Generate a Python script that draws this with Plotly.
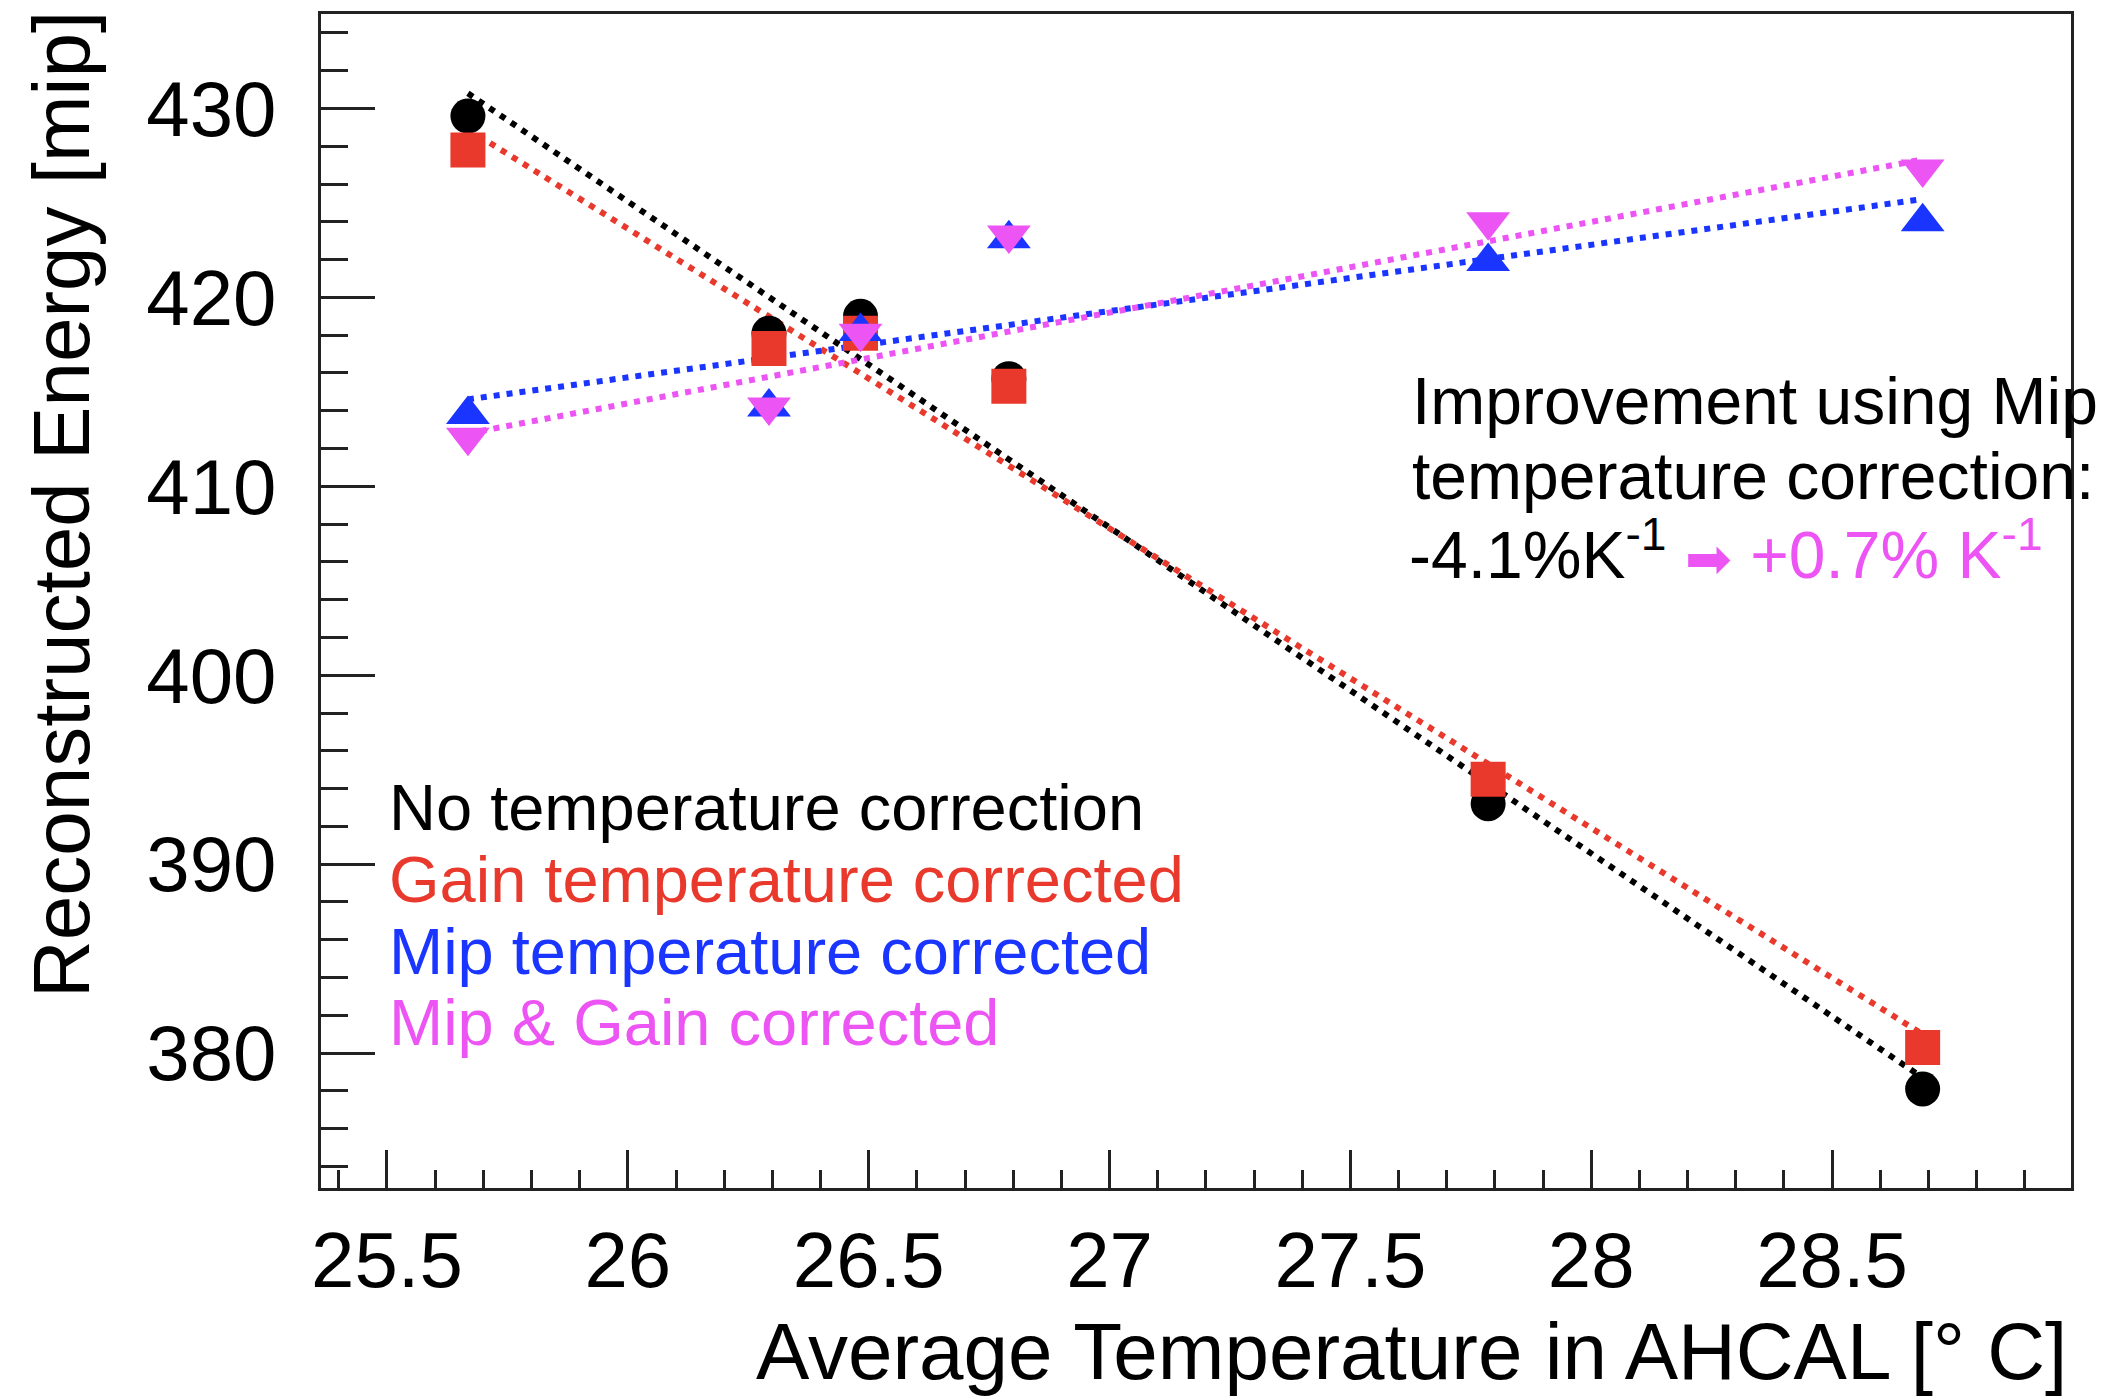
import plotly.graph_objects as go

# ---- data ----
temperature = [25.668, 26.293, 26.483, 26.791, 27.786, 28.688]
no_corr = [429.6, 418.1, 419.0, 415.7, 393.2, 378.1]
gain_corr = [427.8, 417.3, 418.1, 415.3, 394.5, 380.3]
mip_corr = [413.8, 414.2, 418.2, 423.1, 421.9, 424.0]
mip_gain_corr = [412.6, 414.2, 418.1, 423.3, 424.0, 426.8]

fit_x = [25.668, 28.688]
fit_no_corr = [430.8, 378.7]
fit_gain_corr = [428.9, 381.0]
fit_mip_corr = [414.6, 425.2]
fit_mip_gain_corr = [412.8, 427.3]

x_tick_vals = [25.5, 26, 26.5, 27, 27.5, 28, 28.5]
x_tick_text = ["25.5", "26", "26.5", "27", "27.5", "28", "28.5"]
y_tick_vals = [380, 390, 400, 410, 420, 430]
y_tick_text = ["380", "390", "400", "410", "420", "430"]

legend_labels = ["No temperature correction", "Gain temperature corrected",
                 "Mip temperature corrected", "Mip & Gain corrected"]
legend_y = [393.0, 389.2, 385.4, 381.6]

BLACK = "#000000"
RED = "#e8392c"
BLUE = "#1a35ff"
MAGENTA = "#ec55f4"
FONT = "Liberation Sans"

W, H = 2116, 1400
ML, MR, MT, MB = 321, 45, 14, 212

fig = go.Figure()

fits = [(fit_no_corr, BLACK), (fit_gain_corr, RED), (fit_mip_corr, BLUE), (fit_mip_gain_corr, MAGENTA)]
for fy, col in fits:
    fig.add_trace(go.Scatter(x=fit_x, y=fy, mode="lines",
                             line=dict(color=col, width=6, dash="6px,7px"),
                             hoverinfo="skip"))

series = [
    (no_corr, BLACK, "circle", 35),
    (gain_corr, RED, "square", 35),
    (mip_corr, BLUE, "triangle-up", 38),
    (mip_gain_corr, MAGENTA, "triangle-down", 38),
]
for ys, col, sym, sz in series:
    fig.add_trace(go.Scatter(x=temperature, y=ys, mode="markers",
                             marker=dict(color=col, symbol=sym, size=sz, line=dict(width=0))))

ann = []
for lab, yy, col in zip(legend_labels, legend_y, [BLACK, RED, BLUE, MAGENTA]):
    ann.append(dict(x=25.5, y=yy, xref="x", yref="y", text=lab, showarrow=False,
                    xanchor="left", yanchor="middle",
                    font=dict(family=FONT, size=65, color=col)))

ann.append(dict(x=27.623, y=414.5, xref="x", yref="y", text="Improvement using Mip",
                showarrow=False, xanchor="left", yanchor="middle",
                font=dict(family=FONT, size=66, color=BLACK)))
ann.append(dict(x=27.623, y=410.57, xref="x", yref="y", text="temperature correction:",
                showarrow=False, xanchor="left", yanchor="middle",
                font=dict(family=FONT, size=66, color=BLACK)))
improve_text = ("-4.1%K<sup style='font-size:40px'>-1</sup> <span style='color:" + MAGENTA + ";font-size:56px'>➡</span> "
                "<span style='color:" + MAGENTA + "'>+0.7% K<sup style='font-size:40px'>-1</sup></span>")
ann.append(dict(x=27.617, y=406.64, xref="x", yref="y", text=improve_text,
                showarrow=False, xanchor="left", yanchor="middle",
                font=dict(family=FONT, size=66, color=BLACK)))

# axis titles
ann.append(dict(x=(61 - ML) / (W - ML - MR), y=(H - MB - 505) / (H - MT - MB),
                xref="paper", yref="paper", text="Reconstructed Energy [mip]",
                textangle=-90, showarrow=False, xanchor="center", yanchor="middle",
                font=dict(family=FONT, size=80, color=BLACK)))
ann.append(dict(x=(2069 - ML) / (W - ML - MR), y=-(1352 - (H - MB)) / (H - MT - MB),
                xref="paper", yref="paper", text="Average Temperature in AHCAL [° C]",
                showarrow=False, xanchor="right", yanchor="middle",
                font=dict(family=FONT, size=80, color=BLACK)))

fig.update_layout(
    width=W, height=H,
    margin=dict(l=ML, r=MR, t=MT, b=MB),
    paper_bgcolor="white", plot_bgcolor="white",
    showlegend=False,
    annotations=ann,
    xaxis=dict(range=[25.363, 28.996], tickvals=x_tick_vals, ticktext=x_tick_text,
               ticks="inside", ticklen=38, tickwidth=3, tickcolor="#222",
               minor=dict(dtick=0.1, tick0=25.0, ticks="inside", ticklen=18, tickwidth=3, tickcolor="#222"),
               showline=True, linecolor="#222", linewidth=3, mirror=True,
               showgrid=False, zeroline=False, ticklabelstandoff=2,
               tickfont=dict(family=FONT, size=78, color=BLACK)),
    yaxis=dict(range=[372.86, 435], tickvals=y_tick_vals, ticktext=y_tick_text,
               ticks="inside", ticklen=54, tickwidth=3, tickcolor="#222",
               minor=dict(dtick=2, tick0=0, ticks="inside", ticklen=27, tickwidth=3, tickcolor="#222"),
               showline=True, linecolor="#222", linewidth=3, mirror=True,
               showgrid=False, zeroline=False, ticklabelstandoff=26,
               tickfont=dict(family=FONT, size=78, color=BLACK)),
)

fig.write_html("out.html")
